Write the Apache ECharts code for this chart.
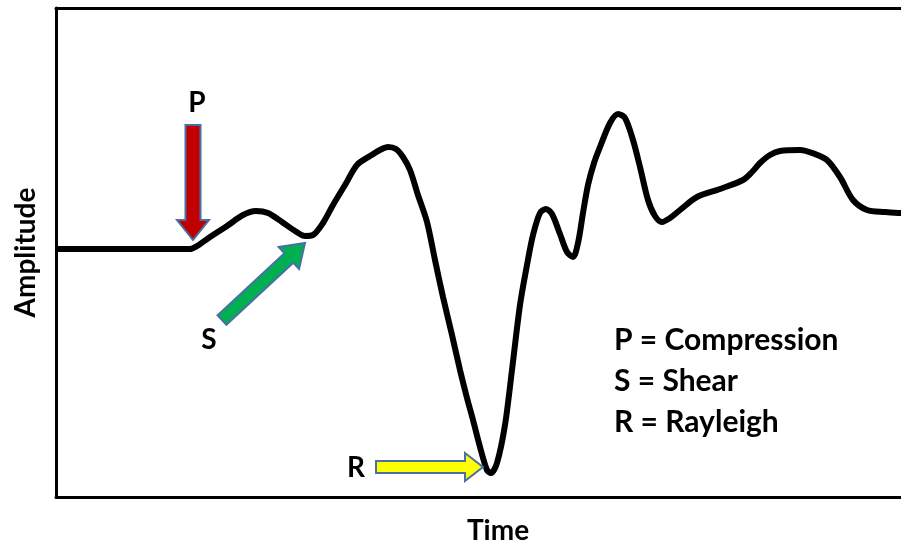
<!DOCTYPE html>
<html>
<head>
<meta charset="utf-8">
<script src="https://cdn.jsdelivr.net/npm/echarts@6/dist/echarts.min.js"></script>
<style>html,body{margin:0;padding:0;background:#fff;}#c{width:901px;height:545px;}</style>
</head>
<body>
<div id="c"></div>
<script>
// Time (arbitrary units) and amplitude (arbitrary units)
const time = [2,64,134,141,154,171,187,200,212,226,239,249,257,267,277,289,301,314,324,332,340,347,354,362,371,379,387,396,404,411,417,424,431,435,441,449,456,464,471,477,484,490,496,504,511,517,522,527,532,538,544,554,562,569,577,584,592,599,606,614,624,641,664,687,696,704,714,724,744,759,771,784,797,811,829,845,860];
const amplitude = [248,248,248,251,260,271,282,286,284,275,266,261,262,274,292,312,332,341,347,350,348,340,327,302,275,237,200,162,127,99,77,50,27,24,34,72,127,192,232,262,284,288,283,263,245,240,254,284,312,334,350,374,383,379,357,330,297,281,275,279,287,300,308,317,325,334,342,346,347,343,337,320,297,287,285,284,284];

// Annotation arrows (data coordinates: [time, amplitude])
const arrowLabels = ['P', 'S', 'R'];
const arrowTails = [[137, 372], [166, 177], [320, 30]];
const arrowTips = [[137, 257], [249, 254], [427, 30]];
const arrowColors = ['#C00000', '#00B050', '#FFFF00'];
const legendLines = ['P = Compression', 'S = Shear', 'R = Rayleigh'];
const xTitle = 'Time';
const yTitle = 'Amplitude';

const chart = echarts.init(document.getElementById('c'));
const FONT = 'Lato';
const hiddenParts = { axisTick: { show: false }, axisLabel: { show: false }, splitLine: { show: false } };
const blackLine = { show: true, lineStyle: { color: '#000', width: 3 } };

chart.setOption({
  animation: false,
  grid: { left: 56, right: 0, top: 8, bottom: 48 },
  xAxis: [
    Object.assign({ type: 'value', min: 0, max: 845, position: 'bottom', axisLine: blackLine }, hiddenParts),
    Object.assign({ type: 'value', min: 0, max: 845, position: 'top', axisLine: blackLine }, hiddenParts)
  ],
  yAxis: Object.assign({
    type: 'value', min: 0, max: 489,
    name: yTitle, nameLocation: 'middle', nameGap: 16, nameRotate: 90,
    nameTextStyle: { fontFamily: FONT, fontSize: 28, fontWeight: 'bold', color: '#000' },
    axisLine: blackLine
  }, hiddenParts),
  series: [{
    type: 'line',
    xAxisIndex: 0,
    data: time.map((t, i) => [t, amplitude[i]]),
    smooth: 0.3,
    showSymbol: false,
    clip: true,
    lineStyle: { color: '#000', width: 6 }
  }]
});

function arrowPoly(tail, tip, shaftW, headW, headL) {
  const dx = tip[0] - tail[0], dy = tip[1] - tail[1];
  const len = Math.sqrt(dx * dx + dy * dy);
  const ux = dx / len, uy = dy / len;
  const nx = -uy, ny = ux;
  const bx = tip[0] - ux * headL, by = tip[1] - uy * headL;
  const s = shaftW / 2, h = headW / 2;
  return [
    [tail[0] + nx * s, tail[1] + ny * s],
    [bx + nx * s, by + ny * s],
    [bx + nx * h, by + ny * h],
    [tip[0], tip[1]],
    [bx - nx * h, by - ny * h],
    [bx - nx * s, by - ny * s],
    [tail[0] - nx * s, tail[1] - ny * s]
  ];
}

const graphics = [];
const dims = [[15, 32, 20], [13, 30, 22], [12, 28, 18]];
arrowLabels.forEach((lab, i) => {
  const tail = chart.convertToPixel({ xAxisIndex: 0, yAxisIndex: 0 }, arrowTails[i]);
  const tip = chart.convertToPixel({ xAxisIndex: 0, yAxisIndex: 0 }, arrowTips[i]);
  graphics.push({
    type: 'polygon',
    shape: { points: arrowPoly(tail, tip, dims[i][0], dims[i][1], dims[i][2]) },
    style: { fill: arrowColors[i], stroke: '#4A6FA5', lineWidth: 2 },
    z: 10
  });
  let lx, ly;
  if (i === 0) { lx = tail[0] + 4; ly = tail[1] - 22; }
  else if (i === 1) { lx = tail[0] - 13; ly = tail[1] + 20; }
  else { lx = tail[0] - 20; ly = tail[1] + 1; }
  graphics.push({
    type: 'text', x: lx, y: ly, z: 11,
    style: { text: lab, fontFamily: FONT, fontSize: 28, fontWeight: 'bold', fill: '#000', align: 'center', verticalAlign: 'middle' }
  });
});
legendLines.forEach((t, i) => {
  graphics.push({
    type: 'text', x: 614, y: 340 + i * 41, z: 11,
    style: { text: t, fontFamily: FONT, fontSize: 30, fontWeight: 'bold', fill: '#000', align: 'left', verticalAlign: 'middle' }
  });
});
graphics.push({
  type: 'text', x: 498, y: 531, z: 11,
  style: { text: xTitle, fontFamily: FONT, fontSize: 28, fontWeight: 'bold', fill: '#000', align: 'center', verticalAlign: 'middle' }
});
chart.setOption({ graphic: graphics });
</script>
</body>
</html>
